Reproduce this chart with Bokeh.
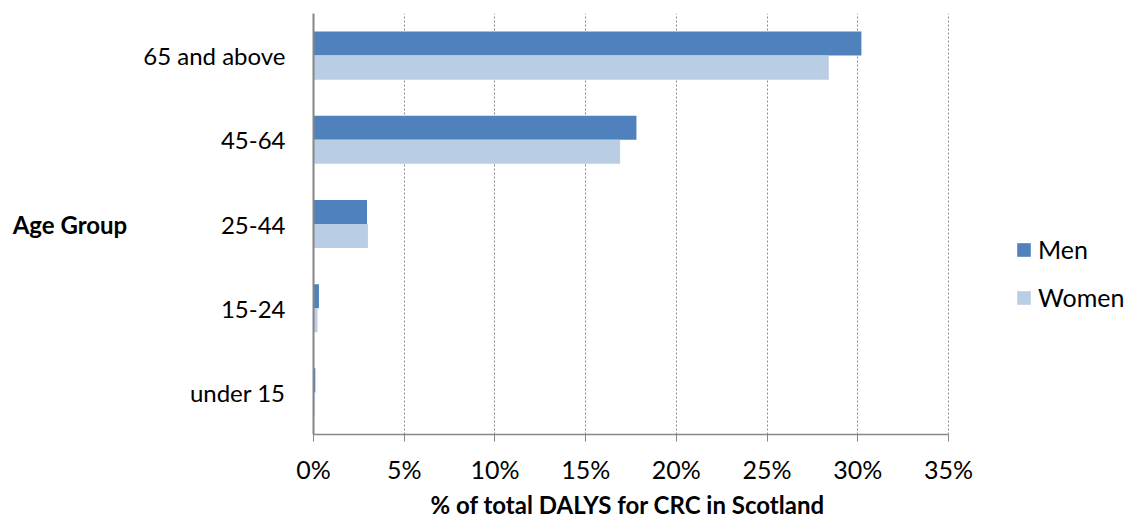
from bokeh.plotting import figure
from bokeh.models import (FactorRange, Range1d, FixedTicker, PrintfTickFormatter,
                          ColumnDataSource, Legend, LegendItem, Title)
from bokeh.transform import dodge
from bokeh.embed import file_html
from bokeh.resources import INLINE

categories = ["under 15", "15-24", "25-44", "45-64", "65 and above"]
men = [0.1, 0.3, 2.95, 17.8, 30.2]
women = [0.07, 0.22, 3.0, 16.9, 28.4]
x_ticks = [0, 5, 10, 15, 20, 25, 30, 35]

FONT = "Lato"
MEN_C = "#4F81BD"
WOMEN_C = "#B9CDE5"

src = ColumnDataSource(dict(cat=categories, men=men, women=women))

# frame spans to the right edge so the legend can live inside it;
# the axis and grid are bounded to 0..35 %
p = figure(width=1125, height=520, output_backend="svg", toolbar_location=None,
           y_range=FactorRange(factors=categories), x_range=Range1d(0, 44.755),
           min_border_left=313, min_border_right=0, min_border_top=13,
           min_border_bottom=83)
p.outline_line_color = None

bh = 0.2857
r_men = p.hbar(y=dodge("cat", 0.143, range=p.y_range), right="men", left=0, height=bh,
               source=src, fill_color=MEN_C, line_color=None)
r_women = p.hbar(y=dodge("cat", -0.143, range=p.y_range), right="women", left=0, height=bh,
                 source=src, fill_color=WOMEN_C, line_color=None)

# x axis
xax = p.xaxis[0]
xax.bounds = (x_ticks[0], x_ticks[-1])
xax.ticker = FixedTicker(ticks=x_ticks)
xax.formatter = PrintfTickFormatter(format="%d%%")
xax.axis_line_color = "#868686"
xax.axis_line_width = 1.5
xax.major_tick_line_color = "#868686"
xax.major_tick_out = 7
xax.major_tick_in = 0
xax.minor_tick_line_color = None
xax.major_label_text_font = FONT
xax.major_label_text_font_size = "25px"
xax.major_label_text_color = "#000000"
xax.major_label_standoff = 12

xtitle = Title(text="% of total DALYS for CRC in Scotland", align="left", offset=117,
               text_font=FONT, text_font_size="24px", text_font_style="bold",
               text_color="#000000", standoff=3)
p.add_layout(xtitle, "below")

# y axis
yax = p.yaxis[0]
yax.axis_line_color = "#868686"
yax.axis_line_width = 2
yax.major_tick_line_color = None
yax.minor_tick_line_color = None
yax.major_label_text_font = FONT
yax.major_label_text_font_size = "24px"
yax.major_label_text_color = "#000000"
yax.major_label_standoff = 22
yax.axis_label = "Age Group"
yax.axis_label_text_font = FONT
yax.axis_label_text_font_size = "24px"
yax.axis_label_text_font_style = "bold"
yax.axis_label_text_color = "#000000"
yax.axis_label_standoff = 13
if "axis_label_orientation" in yax.properties():
    yax.axis_label_orientation = "horizontal"

p.xgrid.ticker = FixedTicker(ticks=x_ticks)
p.xgrid.grid_line_color = "#8c8c8c"
p.xgrid.grid_line_dash = "2 2"
p.xgrid.grid_line_width = 1
p.ygrid.grid_line_color = None

legend = Legend(items=[LegendItem(label="Men", renderers=[r_men]),
                       LegendItem(label="Women", renderers=[r_women])],
                location=(702, 122), orientation="vertical",
                label_text_font=FONT, label_text_font_size="25px",
                label_text_color="#000000",
                glyph_width=17, glyph_height=17, label_height=30, spacing=18,
                padding=0, margin=0, label_standoff=6,
                background_fill_alpha=0, border_line_color=None)
p.add_layout(legend)

open("out.html", "w").write(file_html(p, INLINE))
